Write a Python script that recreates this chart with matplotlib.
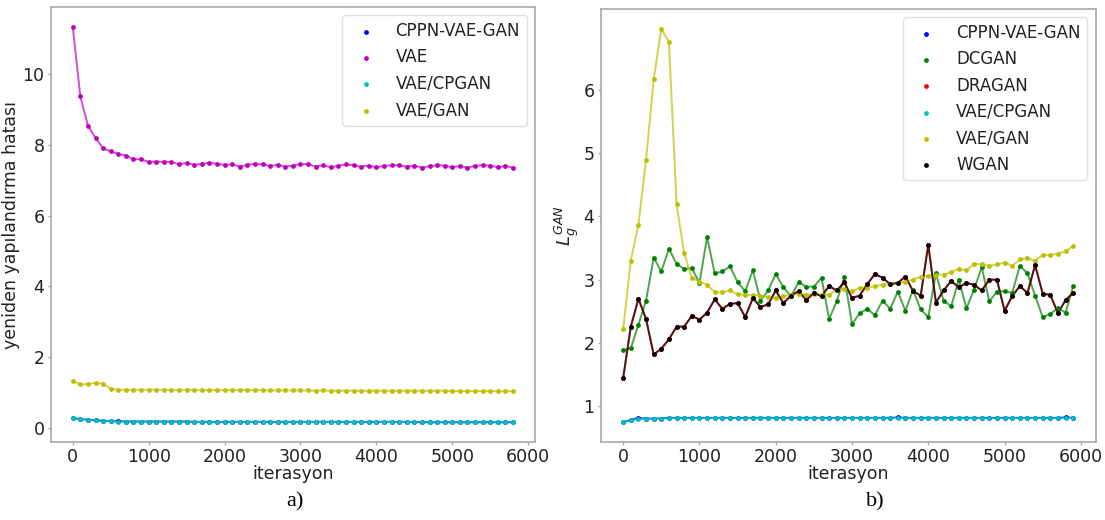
import matplotlib
matplotlib.use("Agg")
import matplotlib.pyplot as plt

# ---------------- data: left panel (reconstruction error) ----------------
iters_a = [i * 100 for i in range(59)]
cppn_rec = [0.27, 0.24, 0.22, 0.21, 0.19, 0.18, 0.18, 0.17, 0.17, 0.17,
            0.17, 0.17, 0.17, 0.17, 0.17, 0.17, 0.16, 0.16, 0.16, 0.16,
            0.16, 0.16, 0.16, 0.16, 0.16, 0.16, 0.16, 0.16, 0.16, 0.16,
            0.16, 0.16, 0.16, 0.16, 0.16, 0.16, 0.16, 0.16, 0.16, 0.16,
            0.16, 0.16, 0.16, 0.16, 0.16, 0.16, 0.15, 0.15, 0.15, 0.15,
            0.15, 0.15, 0.15, 0.15, 0.15, 0.15, 0.15, 0.15, 0.15]
vae_rec = [11.35, 9.38, 8.55, 8.2, 7.91, 7.82, 7.75, 7.70, 7.6, 7.6,
           7.52, 7.53, 7.53, 7.52, 7.46, 7.49, 7.44, 7.47, 7.5, 7.47,
           7.44, 7.45, 7.39, 7.44, 7.47, 7.45, 7.41, 7.44, 7.39, 7.42,
           7.46, 7.46, 7.39, 7.43, 7.37, 7.42, 7.45, 7.43, 7.39, 7.42,
           7.37, 7.41, 7.43, 7.43, 7.39, 7.42, 7.36, 7.40, 7.43, 7.42,
           7.37, 7.41, 7.36, 7.41, 7.43, 7.42, 7.37, 7.41, 7.36]
vaecp_rec = [0.26, 0.23, 0.22, 0.20, 0.19, 0.18, 0.17, 0.17, 0.17, 0.17,
             0.17, 0.17, 0.17, 0.17, 0.17, 0.17, 0.16, 0.16, 0.16, 0.16,
             0.16, 0.16, 0.16, 0.16, 0.16, 0.16, 0.16, 0.16, 0.16, 0.16,
             0.16, 0.16, 0.16, 0.16, 0.16, 0.16, 0.16, 0.16, 0.16, 0.16,
             0.16, 0.16, 0.16, 0.16, 0.16, 0.15, 0.15, 0.15, 0.15, 0.15,
             0.15, 0.15, 0.15, 0.15, 0.15, 0.15, 0.15, 0.15, 0.15]
vaegan_rec = [1.33, 1.22, 1.23, 1.26, 1.24, 1.10, 1.07, 1.07, 1.07, 1.07,
              1.07, 1.07, 1.07, 1.06, 1.06, 1.07, 1.06, 1.06, 1.06, 1.06,
              1.06, 1.06, 1.06, 1.06, 1.06, 1.06, 1.05, 1.05, 1.05, 1.05,
              1.05, 1.05, 1.04, 1.05, 1.04, 1.04, 1.04, 1.04, 1.04, 1.04,
              1.04, 1.04, 1.04, 1.04, 1.04, 1.04, 1.04, 1.04, 1.04, 1.04,
              1.03, 1.03, 1.03, 1.03, 1.03, 1.03, 1.03, 1.03, 1.03]

# ---------------- data: right panel (generator GAN loss) ----------------
iters_b = [i * 100 for i in range(60)]
cppn_g = [0.75, 0.79, 0.82, 0.81, 0.81, 0.81, 0.82, 0.82, 0.82, 0.82,
          0.82, 0.82, 0.82, 0.82, 0.82, 0.82, 0.82, 0.82, 0.82, 0.82,
          0.82, 0.82, 0.82, 0.82, 0.82, 0.82, 0.82, 0.82, 0.82, 0.82,
          0.82, 0.82, 0.82, 0.82, 0.82, 0.82, 0.83, 0.82, 0.82, 0.82,
          0.82, 0.82, 0.82, 0.82, 0.82, 0.82, 0.82, 0.82, 0.82, 0.82,
          0.82, 0.82, 0.82, 0.82, 0.82, 0.82, 0.82, 0.82, 0.83, 0.82]
dcgan_g = [1.89, 1.92, 2.29, 2.67, 3.35, 3.13, 3.49, 3.25, 3.17, 3.18,
           2.95, 3.67, 3.10, 3.13, 3.21, 2.96, 2.82, 3.15, 2.67, 2.83,
           3.09, 2.88, 2.74, 2.96, 2.89, 2.89, 3.03, 2.38, 2.66, 3.04,
           2.30, 2.47, 2.54, 2.44, 2.67, 2.54, 2.81, 2.51, 2.84, 2.53,
           2.41, 3.10, 2.67, 2.58, 3.00, 2.55, 2.84, 3.20, 2.66, 2.81,
           2.82, 2.79, 3.22, 3.10, 2.75, 2.41, 2.46, 2.55, 2.48, 2.90]
dragan_g = [1.45, 2.26, 2.70, 2.38, 1.82, 1.91, 2.06, 2.26, 2.26, 2.43,
            2.37, 2.48, 2.69, 2.54, 2.62, 2.63, 2.41, 2.71, 2.57, 2.61,
            2.83, 2.63, 2.75, 2.82, 2.68, 2.79, 2.74, 2.90, 2.83, 2.96,
            2.71, 2.75, 2.93, 3.09, 3.03, 2.93, 2.95, 3.05, 2.82, 2.75,
            3.55, 2.64, 2.83, 2.98, 2.88, 2.95, 2.92, 2.83, 3.00, 3.00,
            2.51, 2.74, 2.90, 2.79, 3.23, 2.78, 2.76, 2.47, 2.68, 2.79]
vaecp_g = [0.75, 0.78, 0.80, 0.81, 0.81, 0.81, 0.82, 0.82, 0.82, 0.82,
           0.82, 0.82, 0.82, 0.82, 0.82, 0.82, 0.82, 0.82, 0.82, 0.82,
           0.82, 0.82, 0.82, 0.82, 0.82, 0.82, 0.82, 0.82, 0.82, 0.82,
           0.82, 0.82, 0.82, 0.82, 0.82, 0.82, 0.82, 0.82, 0.82, 0.82,
           0.82, 0.82, 0.82, 0.82, 0.82, 0.82, 0.82, 0.82, 0.82, 0.82,
           0.82, 0.82, 0.82, 0.82, 0.82, 0.82, 0.82, 0.82, 0.82, 0.82]
vaegan_g = [2.22, 3.30, 3.87, 4.89, 6.16, 6.96, 6.75, 4.19, 3.42, 3.03,
            2.97, 2.92, 2.80, 2.80, 2.83, 2.77, 2.76, 2.76, 2.75, 2.72,
            2.71, 2.74, 2.76, 2.78, 2.76, 2.78, 2.76, 2.76, 2.84, 2.85,
            2.82, 2.87, 2.87, 2.90, 2.92, 2.93, 2.95, 2.97, 3.00, 3.05,
            3.06, 3.08, 3.08, 3.12, 3.17, 3.15, 3.25, 3.24, 3.22, 3.24,
            3.27, 3.22, 3.32, 3.34, 3.30, 3.39, 3.39, 3.41, 3.45, 3.53]
wgan_g = [1.45, 2.26, 2.70, 2.38, 1.82, 1.91, 2.06, 2.26, 2.26, 2.43,
          2.37, 2.48, 2.69, 2.54, 2.62, 2.63, 2.41, 2.71, 2.57, 2.61,
          2.83, 2.63, 2.75, 2.82, 2.68, 2.79, 2.74, 2.90, 2.83, 2.96,
          2.71, 2.75, 2.93, 3.09, 3.03, 2.93, 2.95, 3.05, 2.82, 2.75,
          3.55, 2.64, 2.83, 2.98, 2.88, 2.95, 2.92, 2.83, 3.00, 3.00,
          2.51, 2.74, 2.90, 2.79, 3.23, 2.78, 2.76, 2.47, 2.68, 2.79]

left_series = [("CPPN-VAE-GAN", cppn_rec, "b"),
               ("VAE", vae_rec, "m"),
               ("VAE/CPGAN", vaecp_rec, "c"),
               ("VAE/GAN", vaegan_rec, "y")]
right_series = [("CPPN-VAE-GAN", cppn_g, "b"),
                ("DCGAN", dcgan_g, "g"),
                ("DRAGAN", dragan_g, "r"),
                ("VAE/CPGAN", vaecp_g, "c"),
                ("VAE/GAN", vaegan_g, "y"),
                ("WGAN", wgan_g, "k")]

plt.rcParams['font.family'] = ['DejaVu Sans']
fig = plt.figure(figsize=(11.05, 5.2), dpi=100)
ax1 = fig.add_axes([0.0459, 0.15, 0.4383, 0.8365])
ax2 = fig.add_axes([0.5436, 0.15, 0.448, 0.8327])

SPINE = "#a8a8a8"
TXT = "#222222"


def draw(ax, x, series):
    for name, y, col in series:
        ax.plot(x, y, color=col, alpha=0.7, lw=1.4, zorder=2)
        ax.scatter(x, y, color=col, s=12, marker='o', label=name, zorder=3,
                   linewidths=0)
    for s in ax.spines.values():
        s.set_color(SPINE)
        s.set_linewidth(1.2)
    ax.tick_params(axis='both', labelsize=12.5, colors=SPINE,
                   labelcolor=TXT, length=2.5, width=1, pad=2)
    ax.set_xticks([0, 1000, 2000, 3000, 4000, 5000, 6000])
    leg = ax.legend(loc='upper right', fontsize=12, scatterpoints=1,
                    markerscale=1.0, framealpha=0.9)
    leg.get_frame().set_edgecolor("#dddddd")
    for t in leg.get_texts():
        t.set_color(TXT)
    ax.set_xlabel("iterasyon", fontsize=12.5, color=TXT, labelpad=-1)


draw(ax1, iters_a, left_series)
draw(ax2, iters_b, right_series)

ax1.set_yticks([0, 2, 4, 6, 8, 10])
ax1.set_ylabel("yeniden yapılandırma hatası", fontsize=12.5, color=TXT,
               labelpad=2)
ax2.set_yticks([1, 2, 3, 4, 5, 6])
ax2.set_ylabel(r"$L_g^{GAN}$", fontsize=13, color=TXT, labelpad=2)

fig.text(0.267, 0.035, "a)", family="Liberation Serif", fontsize=16,
         ha="center", va="center", color="black")
fig.text(0.792, 0.035, "b)", family="Liberation Serif", fontsize=16,
         ha="center", va="center", color="black")

fig.savefig("out.png", dpi=100)
